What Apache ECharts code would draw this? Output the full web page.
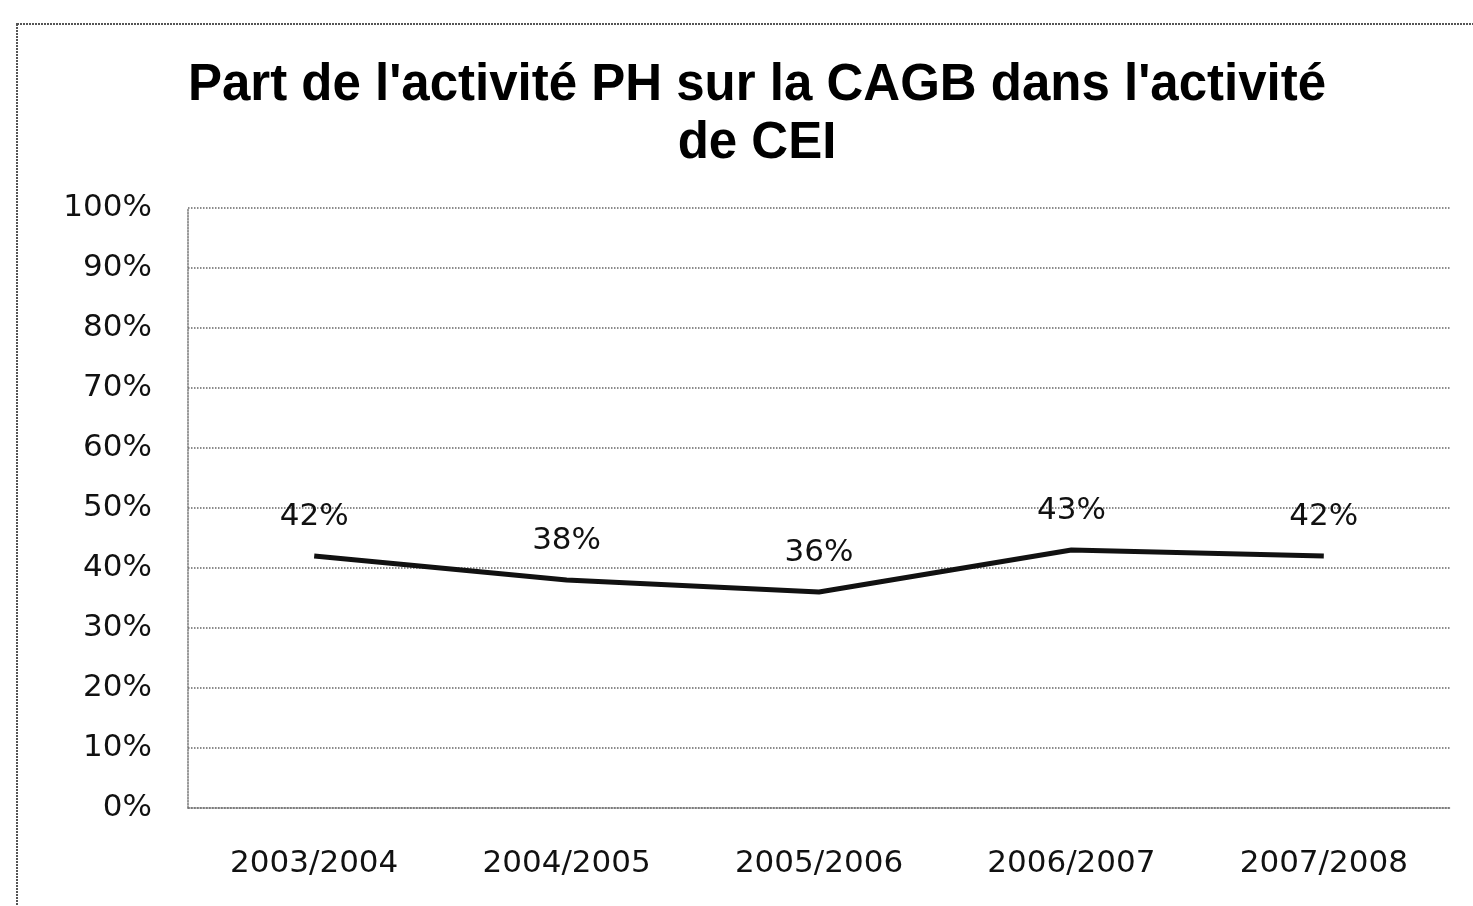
<!DOCTYPE html>
<html>
<head>
<meta charset="utf-8">
<script src="https://cdn.jsdelivr.net/npm/echarts@6/dist/echarts.min.js"></script>
<style>
  html, body { margin: 0; padding: 0; background: #fff; }
  #main { width: 1473px; height: 906px; }
</style>
</head>
<body>
<div id="main"></div>
<script>
    // données
    var years = ['2003/2004', '2004/2005', '2005/2006', '2006/2007', '2007/2008'];
    var parts = [42, 38, 36, 43, 42];
    var titleText = "Part de l'activité PH sur la CAGB dans l'activité\nde CEI";

    var chart = echarts.init(document.getElementById('main'));

    var option = {
        backgroundColor: '#fff',
        animation: false,
        title: {
            text: titleText,
            left: 752,
            textAlign: 'center',
            top: 52,
            textStyle: {
                fontFamily: 'Liberation Sans, Arial',
                fontWeight: 'bold',
                fontSize: 51,
                lineHeight: 58,
                color: '#000'
            }
        },
        graphic: [{
            // cadre extérieur
            type: 'rect',
            shape: { x: 17, y: 24, width: 1500, height: 1000 },
            style: { fill: 'none', stroke: '#555', lineWidth: 2, lineDash: [2, 1] },
            silent: true
        }],
        grid: {
            left: 188,
            right: 23,
            top: 208,
            bottom: 98
        },
        xAxis: {
            type: 'category',
            data: years,
            boundaryGap: true,
            axisTick: { show: false },
            axisLine: { show: true, lineStyle: { color: '#777', type: 'dotted', width: 1.5 } },
            axisLabel: {
                margin: 40,
                fontFamily: 'DejaVu Sans, Verdana',
                fontSize: 31,
                color: '#111'
            }
        },
        yAxis: {
            type: 'value',
            min: 0,
            max: 100,
            interval: 10,
            axisLine: { show: true, lineStyle: { color: '#777', type: 'dotted', width: 1.5 } },
            axisTick: { show: false },
            axisLabel: {
                margin: 36,
                formatter: '{value}%',
                fontFamily: 'DejaVu Sans, Verdana',
                fontSize: 31,
                color: '#111'
            },
            splitLine: {
                show: true,
                lineStyle: { color: '#666', type: 'dotted', width: 1.5 }
            }
        },
        series: [{
            type: 'line',
            data: parts,
            symbol: 'circle',
            symbolSize: 0,
            showSymbol: true,
            lineStyle: { color: '#111', width: 5 },
            label: {
                show: true,
                position: 'top',
                distance: 24,
                formatter: '{c}%',
                fontFamily: 'DejaVu Sans, Verdana',
                fontSize: 31,
                color: '#111'
            }
        }]
    };

    chart.setOption(option);
</script>
</body>
</html>
